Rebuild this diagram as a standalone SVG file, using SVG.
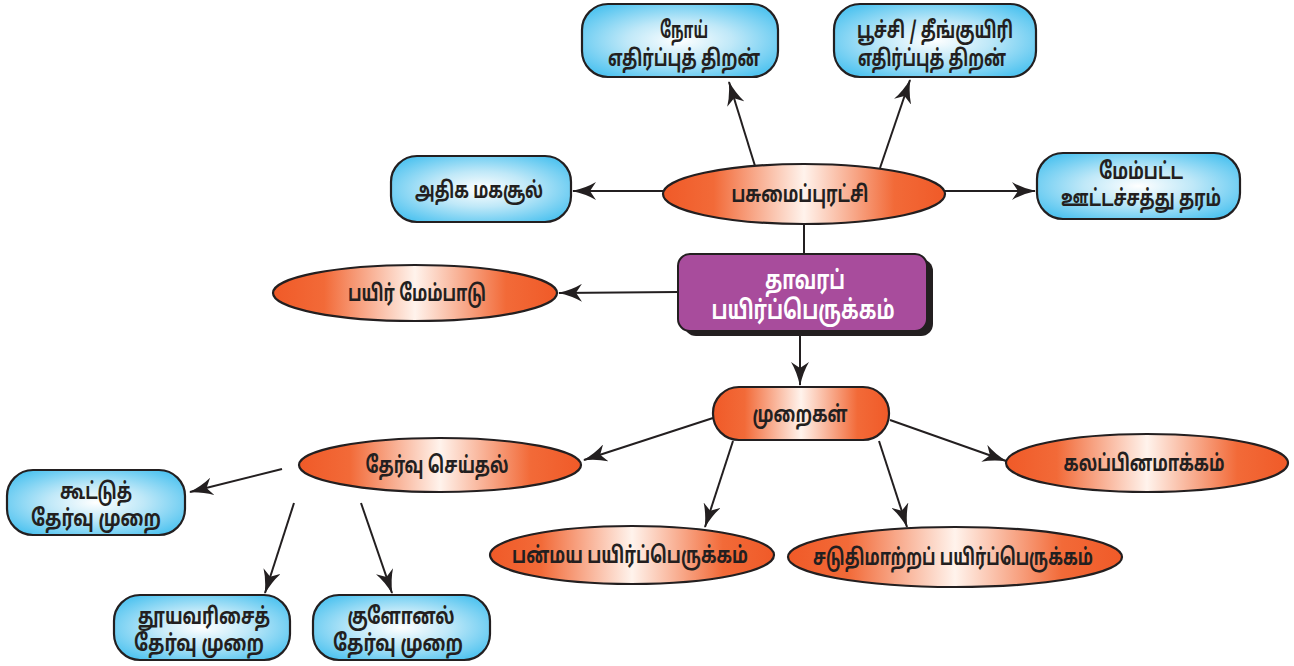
<svg xmlns="http://www.w3.org/2000/svg" width="1294" height="666" viewBox="0 0 1294 666">
<style>
.blue{fill:url(#gBlue);stroke:#231f20;stroke-width:2.2}
.orange{fill:url(#gOrange);stroke:#231f20;stroke-width:2.2}
.t{font-family:"Noto Sans Tamil","Noto Sans",sans-serif;font-weight:bold;font-size:23px;fill:#231f20;text-anchor:middle}
.tw{font-family:"Noto Sans Tamil","Noto Sans",sans-serif;font-weight:bold;font-size:26px;fill:#ffffff;text-anchor:middle}
.c{stroke:#231f20;stroke-width:2;fill:none;marker-end:url(#arr)}
.cn{stroke:#231f20;stroke-width:2;fill:none}
</style>
<defs>
<radialGradient id="gBlue" cx="0.5" cy="0.5" r="0.6">
<stop offset="0" stop-color="#ffffff"/>
<stop offset="0.45" stop-color="#bfe8f8"/>
<stop offset="1" stop-color="#52c4f0"/>
</radialGradient>
<linearGradient id="gOrange" x1="0" y1="0" x2="1" y2="0">
<stop offset="0" stop-color="#f05a28"/>
<stop offset="0.18" stop-color="#f26a38"/>
<stop offset="0.5" stop-color="#fff3ec"/>
<stop offset="0.82" stop-color="#f26a38"/>
<stop offset="1" stop-color="#f05a28"/>
</linearGradient>
<marker id="arr" viewBox="0 0 24 18" refX="23" refY="9" markerWidth="24" markerHeight="18" markerUnits="userSpaceOnUse" orient="auto">
<path d="M0,0 Q10,6 24,9 Q10,12 0,18 L6,9 Z" fill="#231f20"/>
</marker>
</defs>

<g id="connectors">
<line class="c" x1="663" y1="191" x2="573" y2="191"/>
<line class="c" x1="945" y1="191" x2="1035" y2="191"/>
<line class="c" x1="755" y1="166" x2="729" y2="82"/>
<line class="c" x1="880" y1="168" x2="910" y2="80"/>
<line class="cn" x1="804" y1="224" x2="804" y2="254"/>
<line class="c" x1="678" y1="292" x2="559" y2="293"/>
<line class="c" x1="800" y1="336" x2="800" y2="385"/>
<line class="c" x1="713" y1="418" x2="584" y2="460"/>
<line class="c" x1="733" y1="441" x2="705" y2="527"/>
<line class="c" x1="879" y1="441" x2="907" y2="527"/>
<line class="c" x1="890" y1="420" x2="1006" y2="461"/>
<line class="c" x1="282" y1="469" x2="190" y2="492"/>
<line class="c" x1="294" y1="503" x2="265" y2="593"/>
<line class="c" x1="361" y1="503" x2="392" y2="593"/>
</g>

<g id="n-noi">
<rect class="blue" x="582" y="4" width="196" height="73" rx="26"/>
<text class="t" x="684" y="38" textLength="48" lengthAdjust="spacingAndGlyphs">நோய்</text>
<text class="t" x="684" y="66" textLength="152" lengthAdjust="spacingAndGlyphs">எதிர்ப்புத் திறன்</text>
</g>
<g id="n-poochi">
<rect class="blue" x="834" y="4" width="202" height="73" rx="26"/>
<text class="t" x="935" y="38" textLength="156" lengthAdjust="spacingAndGlyphs">பூச்சி / தீங்குயிரி</text>
<text class="t" x="932" y="66" textLength="148" lengthAdjust="spacingAndGlyphs">எதிர்ப்புத் திறன்</text>
</g>
<g id="n-adhiga">
<rect class="blue" x="391" y="156" width="180" height="66" rx="26"/>
<text class="t" x="479" y="198" textLength="128" lengthAdjust="spacingAndGlyphs">அதிக மகசூல்</text>
</g>
<g id="n-pasumai">
<ellipse class="orange" cx="804" cy="194" rx="141" ry="30"/>
<text class="t" x="800" y="202" textLength="137" lengthAdjust="spacingAndGlyphs">பசுமைப்புரட்சி</text>
</g>
<g id="n-mempatta">
<rect class="blue" x="1037" y="153" width="203" height="66" rx="26"/>
<text class="t" x="1141" y="179" textLength="84" lengthAdjust="spacingAndGlyphs">மேம்பட்ட</text>
<text class="t" x="1141" y="206" textLength="160" lengthAdjust="spacingAndGlyphs">ஊட்டச்சத்து தரம்</text>
</g>
<g id="n-thavara">
<rect x="684" y="259" width="249" height="77" rx="12" fill="#231f20"/>
<rect x="678" y="254" width="249" height="77" rx="12" fill="#a84c9c" stroke="#231f20" stroke-width="2"/>
<text class="tw" x="805" y="289" textLength="80" lengthAdjust="spacingAndGlyphs">தாவரப்</text>
<text class="tw" x="803" y="319" textLength="183" lengthAdjust="spacingAndGlyphs">பயிர்ப்பெருக்கம்</text>
</g>
<g id="n-payir">
<ellipse class="orange" cx="415" cy="293" rx="142" ry="28"/>
<text class="t" x="417" y="301" textLength="138" lengthAdjust="spacingAndGlyphs">பயிர் மேம்பாடு</text>
</g>
<g id="n-muraigal">
<rect class="orange" x="713" y="387" width="176" height="53" rx="26"/>
<text class="t" x="800" y="422" textLength="95" lengthAdjust="spacingAndGlyphs">முறைகள்</text>
</g>
<g id="n-thervu">
<ellipse class="orange" cx="440" cy="465" rx="141" ry="27"/>
<text class="t" x="437" y="473" textLength="143" lengthAdjust="spacingAndGlyphs">தேர்வு செய்தல்</text>
</g>
<g id="n-kalappu">
<ellipse class="orange" cx="1147" cy="463" rx="141" ry="29"/>
<text class="t" x="1144" y="471" textLength="161" lengthAdjust="spacingAndGlyphs">கலப்பினமாக்கம்</text>
</g>
<g id="n-panmaya">
<ellipse class="orange" cx="632" cy="555" rx="142" ry="29"/>
<text class="t" x="630" y="563" textLength="236" lengthAdjust="spacingAndGlyphs">பன்மய பயிர்ப்பெருக்கம்</text>
</g>
<g id="n-saduthi">
<ellipse class="orange" cx="955" cy="557" rx="167" ry="30"/>
<text class="t" x="953" y="565" textLength="280" lengthAdjust="spacingAndGlyphs">சடுதிமாற்றப் பயிர்ப்பெருக்கம்</text>
</g>
<g id="n-koottu">
<rect class="blue" x="7" y="470" width="178" height="65" rx="26"/>
<text class="t" x="96" y="499" textLength="72" lengthAdjust="spacingAndGlyphs">கூட்டுத்</text>
<text class="t" x="96" y="526" textLength="130" lengthAdjust="spacingAndGlyphs">தேர்வு முறை</text>
</g>
<g id="n-thooya">
<rect class="blue" x="114" y="595" width="176" height="65" rx="26"/>
<text class="t" x="204" y="624" textLength="132" lengthAdjust="spacingAndGlyphs">தூயவரிசைத்</text>
<text class="t" x="199" y="651" textLength="130" lengthAdjust="spacingAndGlyphs">தேர்வு முறை</text>
</g>
<g id="n-kulonal">
<rect class="blue" x="313" y="595" width="177" height="65" rx="26"/>
<text class="t" x="401" y="624" textLength="107" lengthAdjust="spacingAndGlyphs">குளோனல்</text>
<text class="t" x="398" y="651" textLength="130" lengthAdjust="spacingAndGlyphs">தேர்வு முறை</text>
</g>
</svg>
